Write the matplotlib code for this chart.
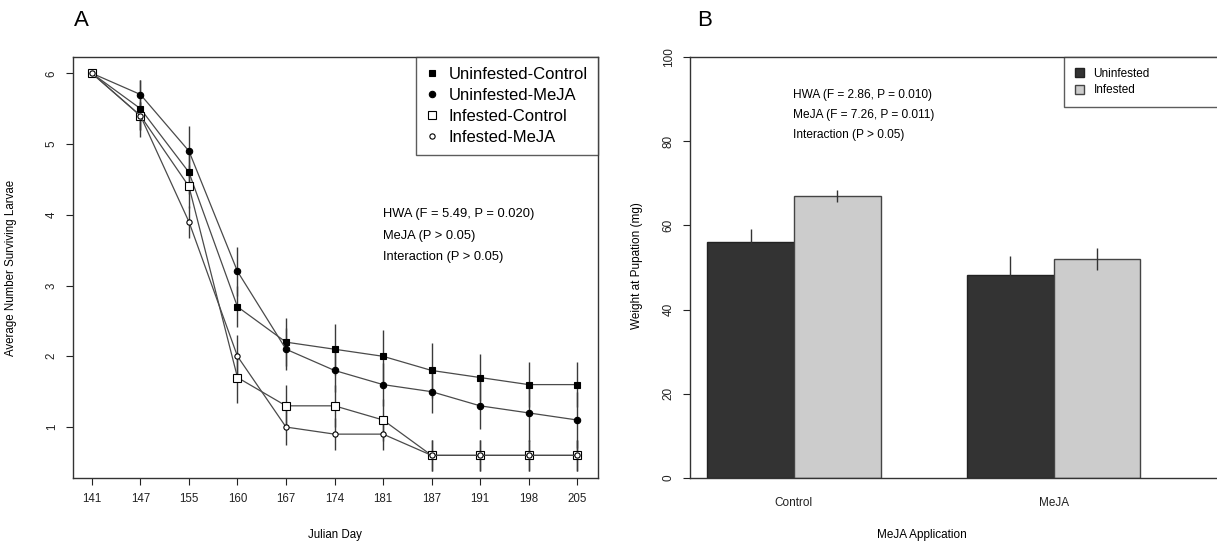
import matplotlib
matplotlib.use("Agg")
from matplotlib import pyplot as plt
from matplotlib.lines import Line2D
import numpy as np

plt.rcParams['font.family'] = ['Liberation Sans', 'DejaVu Sans']

# Panel A: larvae survival over Julian days
days = ['141', '147', '155', '160', '167', '174', '181', '187', '191', '198', '205']
uninf_control = [6, 5.5, 4.6, 2.7, 2.2, 2.1, 2.0, 1.8, 1.7, 1.6, 1.6]
uninf_meja = [6, 5.7, 4.9, 3.2, 2.1, 1.8, 1.6, 1.5, 1.3, 1.2, 1.1]
inf_control = [6, 5.4, 4.4, 1.7, 1.3, 1.3, 1.1, 0.6, 0.6, 0.6, 0.6]
inf_meja = [6, 5.4, 3.9, 2.0, 1.0, 0.9, 0.9, 0.6, 0.6, 0.6, 0.6]
se_uninf_control = [0, 0.4, 0.3, 0.29, 0.34, 0.36, 0.37, 0.39, 0.33, 0.32, 0.32]
se_uninf_meja = [0, 0.2, 0.36, 0.35, 0.3, 0.3, 0.3, 0.3, 0.33, 0.4, 0.4]
se_inf_control = [0, 0.2, 0.3, 0.36, 0.3, 0.3, 0.3, 0.22, 0.22, 0.22, 0.22]
se_inf_meja = [0, 0.2, 0.23, 0.3, 0.25, 0.23, 0.23, 0.22, 0.22, 0.22, 0.22]

# Panel B: weight at pupation
groups = ['Control', 'MeJA']
weight_uninf = [56.1, 48.3]
weight_inf = [67.0, 52.0]
se_weight_uninf = [3.0, 4.5]
se_weight_inf = [1.5, 2.7]

W, H = 1217, 543
fig = plt.figure(figsize=(W / 100, H / 100), dpi=100)

def box(x0, y0, x1, y1):
    return [x0 / W, 1 - y1 / H, (x1 - x0) / W, (y1 - y0) / H]

# ---------- Panel A ----------
ax1 = fig.add_axes(box(73, 57, 598, 478))
x = np.arange(len(days))
series = [
    (uninf_control, se_uninf_control, 's', 'black', 5, 'Uninfested-Control'),
    (uninf_meja, se_uninf_meja, 'o', 'black', 4.6, 'Uninfested-MeJA'),
    (inf_control, se_inf_control, 's', 'white', 5.6, 'Infested-Control'),
    (inf_meja, se_inf_meja, 'o', 'white', 3.8, 'Infested-MeJA'),
]
for vals, se, mk, fc, ms, lab in series:
    v = np.array(vals)
    s = np.array(se)
    ax1.vlines(x[1:], (v - s)[1:], (v + s)[1:], color='#3a3a3a', lw=1)
for vals, se, mk, fc, ms, lab in series:
    ax1.plot(x, vals, color='#4a4a4a', lw=0.9, marker=mk, markersize=ms,
             markerfacecolor=fc, markeredgecolor='black', markeredgewidth=0.8)

ax1.set_xlim(-0.39, 10.43)
ax1.set_ylim(0.28, 6.23)
ax1.set_xticks(x)
ax1.set_xticklabels(days)
ax1.set_yticks([1, 2, 3, 4, 5, 6])
ax1.set_yticklabels(['1', '2', '3', '4', '5', '6'], rotation=90, va='center')
ax1.tick_params(direction='out', length=5, width=0.8, labelsize=8.3, colors='#222222')
ax1.tick_params(axis='x', pad=6)
ax1.tick_params(axis='y', pad=6)
for sp in ax1.spines.values():
    sp.set_color('#333333')
    sp.set_linewidth(1)
ax1.set_xlabel('Julian Day', fontsize=8.3)
ax1.xaxis.set_label_coords(0.499, -0.122)
ax1.set_ylabel('Average Number Surviving Larvae', fontsize=8.3)
ax1.yaxis.set_label_coords(-0.107, 0.499)

ax1.text(0.59, 0.627, 'HWA (F = 5.49, P = 0.020)', transform=ax1.transAxes, fontsize=9.3, va='center')
ax1.text(0.59, 0.575, 'MeJA (P > 0.05)', transform=ax1.transAxes, fontsize=9.3, va='center')
ax1.text(0.59, 0.525, 'Interaction (P > 0.05)', transform=ax1.transAxes, fontsize=9.3, va='center')

handles = [Line2D([], [], ls='none', marker=mk, markersize=ms, markerfacecolor=fc,
                  markeredgecolor='black', markeredgewidth=0.8, label=lab)
           for vals, se, mk, fc, ms, lab in series]
leg = ax1.legend(handles=handles, loc='upper right', borderaxespad=0, fontsize=12,
                 frameon=True, fancybox=False, edgecolor='#333333', labelspacing=0.36,
                 handlelength=0.7, handletextpad=0.65, borderpad=0.6)
leg.get_frame().set_linewidth(1)

fig.text(81 / W, 1 - 21 / H, 'A', fontsize=16, ha='center', va='center')

# ---------- Panel B ----------
ax2 = fig.add_axes(box(690, 57, 1240, 478))
centers = np.array([2, 5])
ax2.bar(centers - 0.5, weight_uninf, width=1, color='#333333', edgecolor='#222222', lw=1,
        label='Uninfested')
ax2.bar(centers + 0.5, weight_inf, width=1, color='#cccccc', edgecolor='#444444', lw=1,
        label='Infested')
ax2.vlines(centers - 0.5, np.array(weight_uninf) - se_weight_uninf,
           np.array(weight_uninf) + se_weight_uninf, color='#333333', lw=1)
ax2.vlines(centers + 0.5, np.array(weight_inf) - se_weight_inf,
           np.array(weight_inf) + se_weight_inf, color='#333333', lw=1)
ax2.set_xlim(0.8, 7.15)
ax2.set_ylim(0, 100)
ax2.set_yticks([0, 20, 40, 60, 80, 100])
ax2.set_yticklabels(['0', '20', '40', '60', '80', '100'], rotation=90, va='center')
ax2.set_xticks(centers)
ax2.set_xticklabels(groups)
ax2.tick_params(axis='x', length=0, pad=14, labelsize=8.5, colors='#222222')
ax2.tick_params(axis='y', direction='out', length=5, width=0.8, pad=6, labelsize=8.5,
                colors='#222222')
for sp in ax2.spines.values():
    sp.set_color('#333333')
    sp.set_linewidth(1)
ax2.set_xlabel('MeJA Application', fontsize=8.5)
ax2.xaxis.set_label_coords(0.422, -0.122)
ax2.set_ylabel('Weight at Pupation (mg)', fontsize=8.5)
ax2.yaxis.set_label_coords(-0.0855, 0.505)

ax2.text(0.187, 0.91, 'HWA (F = 2.86, P = 0.010)', transform=ax2.transAxes, fontsize=8.6, va='center')
ax2.text(0.187, 0.862, 'MeJA (F = 7.26, P = 0.011)', transform=ax2.transAxes, fontsize=8.6, va='center')
ax2.text(0.187, 0.814, 'Interaction (P > 0.05)', transform=ax2.transAxes, fontsize=8.6, va='center')

# legend box runs past the right edge of the picture, as in the original
leg2 = ax2.legend(loc='upper left', bbox_to_anchor=((1064 - 690) / 550, 0, 0.32, 1.0),
                  mode='expand', borderaxespad=0,
                  fontsize=8.5, frameon=True, fancybox=False, edgecolor='#333333',
                  labelspacing=0.4, handlelength=0.8, handleheight=0.8, handletextpad=0.8,
                  borderpad=0.9)
leg2.get_frame().set_linewidth(1)

fig.text(705 / W, 1 - 21 / H, 'B', fontsize=16, ha='center', va='center')

fig.savefig('out.png', dpi=100, facecolor='white')
